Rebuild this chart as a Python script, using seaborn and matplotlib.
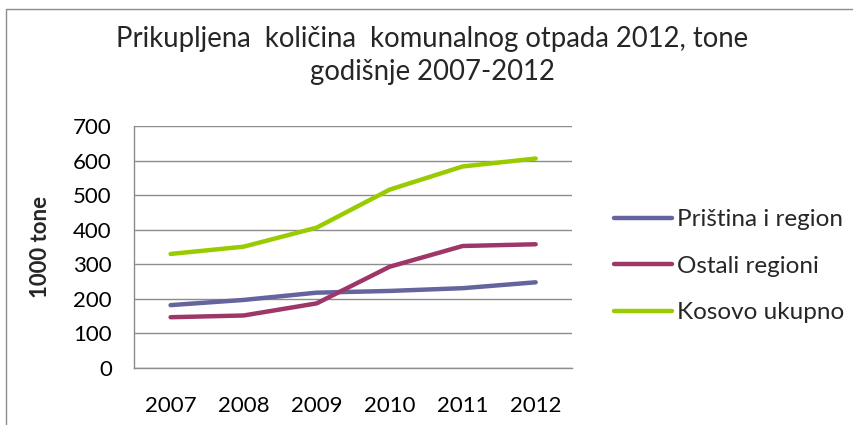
import pandas as pd
import numpy as np
import matplotlib.pyplot as plt
import seaborn as sns
from matplotlib.patches import Rectangle

years = ['2007', '2008', '2009', '2010', '2011', '2012']
pristina = [182, 197, 218, 223, 231, 248]
ostali = [147, 152, 187, 293, 353, 358]
kosovo = [330, 351, 406, 516, 583, 606]
series_names = ['Priština i region', 'Ostali regioni', 'Kosovo ukupno']
colors = ['#64649E', '#9E3768', '#99CC00']

df = pd.DataFrame({
    'Godina': years * 3,
    'Vrijednost': pristina + ostali + kosovo,
    'Serija': [series_names[0]] * 6 + [series_names[1]] * 6 + [series_names[2]] * 6,
})

sns.set_theme(style="white")
plt.rcParams['font.family'] = ['Lato', 'DejaVu Sans']

fig = plt.figure(figsize=(8.54, 4.25), dpi=100)
ax = fig.add_axes([0.157, 0.134, 0.513, 0.5695])

sns.lineplot(data=df, x='Godina', y='Vrijednost', hue='Serija', palette=colors,
             linewidth=3.2, ax=ax, sort=False)
for ln in ax.get_lines():
    ln.set_solid_capstyle('round')

ax.set_xlim(-0.5, 5.5)
ax.set_ylim(0, 700)
ax.set_yticks(range(0, 701, 100))
ax.yaxis.grid(True, color='#8c8c8c', linewidth=1)
ax.set_axisbelow(True)
for s in ['top', 'right']:
    ax.spines[s].set_visible(False)
for s in ['left', 'bottom']:
    ax.spines[s].set_color('#8c8c8c')
    ax.spines[s].set_linewidth(1)
ax.tick_params(axis='y', length=0, pad=16, labelsize=16, colors='black')
ax.tick_params(axis='x', length=0, pad=20, labelsize=16, colors='black')
ax.set_xlabel('')
ax.set_ylabel('1000 tone', fontsize=16, fontweight='bold')
ax.yaxis.set_label_coords(-0.19, 0.5)

leg = ax.legend(loc='center left', bbox_to_anchor=(1.045, 0.42), frameon=False,
                fontsize=17.5, handlelength=2.4, handletextpad=0.2, labelspacing=1.05)
for h in leg.get_lines():
    h.set_linewidth(3.2)

fig.text(0.506, 0.87, 'Prikupljena  količina  komunalnog otpada 2012, tone\ngodišnje 2007-2012',
         ha='center', va='center', fontsize=19.8, linespacing=1.34)

fig.patches.append(Rectangle((6 / 854, -0.1), 1.2, 1 - 9 / 425 + 0.1, transform=fig.transFigure,
                             fill=False, edgecolor='#8c8c8c', linewidth=1))

fig.savefig('out.png', dpi=100)
